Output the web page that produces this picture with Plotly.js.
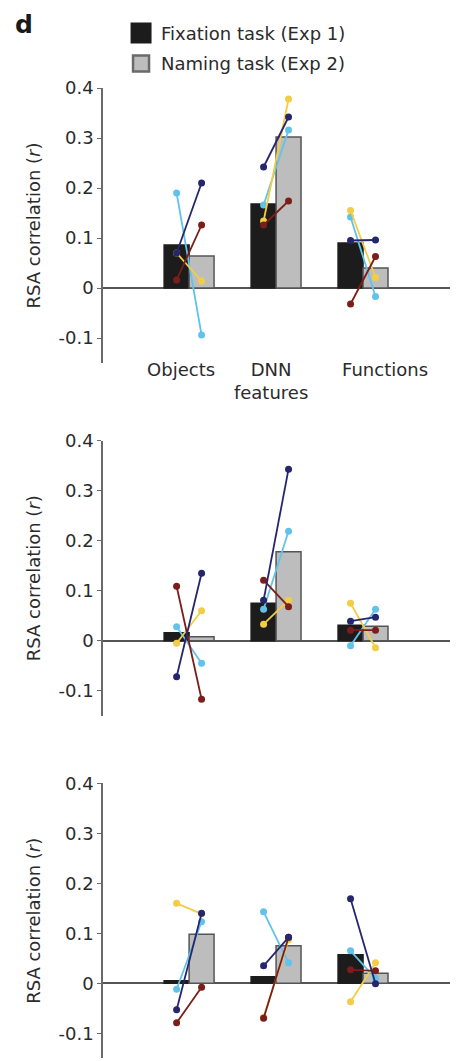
<!DOCTYPE html>
<html><head><meta charset="utf-8">
<script src="https://cdn.plot.ly/plotly-3.0.1.min.js"></script>
<style>html,body{margin:0;padding:0;background:#fff}#chart{width:461px;height:1061px}</style>
</head><body><div id="chart"></div>
<script>
// ---------- data ----------
const categories = ['Objects', 'DNN<br>features', 'Functions'];
const seriesNames = ['Fixation task (Exp 1)', 'Naming task (Exp 2)'];
const yTickVals = [-0.1, 0, 0.1, 0.2, 0.3, 0.4];
const yTickText = ['-0.1', '0', '0.1', '0.2', '0.3', '0.4'];
const axisTitle = 'RSA correlation (<i>r</i>)';
const panelLabel = 'd';

// Panel 1 (top)
const p1Exp1Mean = [0.086, 0.168, 0.090];
const p1Exp2Mean = [0.064, 0.302, 0.040];
const p1NavyExp1 = [0.070, 0.242, 0.095];
const p1NavyExp2 = [0.210, 0.342, 0.096];
const p1RedExp1 = [0.016, 0.126, -0.032];
const p1RedExp2 = [0.126, 0.174, 0.063];
const p1BlueExp1 = [0.190, 0.166, 0.142];
const p1BlueExp2 = [-0.094, 0.316, -0.017];
const p1YellowExp1 = [0.070, 0.134, 0.155];
const p1YellowExp2 = [0.014, 0.378, 0.021];

// Panel 2 (middle)
const p2Exp1Mean = [0.016, 0.075, 0.031];
const p2Exp2Mean = [0.008, 0.178, 0.029];
const p2NavyExp1 = [-0.072, 0.081, 0.039];
const p2NavyExp2 = [0.135, 0.343, 0.047];
const p2RedExp1 = [0.109, 0.121, 0.021];
const p2RedExp2 = [-0.117, 0.068, 0.021];
const p2BlueExp1 = [0.028, 0.063, -0.010];
const p2BlueExp2 = [-0.045, 0.219, 0.063];
const p2YellowExp1 = [-0.005, 0.033, 0.075];
const p2YellowExp2 = [0.060, 0.081, -0.014];

// Panel 3 (bottom)
const p3Exp1Mean = [0.005, 0.013, 0.057];
const p3Exp2Mean = [0.098, 0.075, 0.020];
const p3NavyExp1 = [-0.053, 0.035, 0.169];
const p3NavyExp2 = [0.140, 0.092, -0.001];
const p3RedExp1 = [-0.079, -0.070, 0.027];
const p3RedExp2 = [-0.008, 0.092, 0.025];
const p3BlueExp1 = [-0.012, 0.143, 0.065];
const p3BlueExp2 = [0.123, 0.041, 0.010];
const p3YellowExp1 = [0.160, -0.068, -0.037];
const p3YellowExp2 = [0.139, 0.087, 0.041];

// ---------- styles ----------
const FONT = 'DejaVu Sans, Arial, sans-serif';
const TXT = '#2b2b2b';
const AXC = '#6a6a6a';
const barColors = ['#1c1c1c', '#bdbdbd'];
const barLines = ['#1c1c1c', '#555555'];
const subjColors = {navy: '#26266e', red: '#7b1e1a', blue: '#62c3ea', yellow: '#f2cd45'};
const barWidth = 0.287;

const panels = [
  {ax: '', m1: p1Exp1Mean, m2: p1Exp2Mean, subj: [
    ['blue', p1BlueExp1, p1BlueExp2], ['yellow', p1YellowExp1, p1YellowExp2],
    ['red', p1RedExp1, p1RedExp2], ['navy', p1NavyExp1, p1NavyExp2]]},
  {ax: '2', m1: p2Exp1Mean, m2: p2Exp2Mean, subj: [
    ['blue', p2BlueExp1, p2BlueExp2], ['yellow', p2YellowExp1, p2YellowExp2],
    ['red', p2RedExp1, p2RedExp2], ['navy', p2NavyExp1, p2NavyExp2]]},
  {ax: '3', m1: p3Exp1Mean, m2: p3Exp2Mean, subj: [
    ['blue', p3BlueExp1, p3BlueExp2], ['yellow', p3YellowExp1, p3YellowExp2],
    ['red', p3RedExp1, p3RedExp2], ['navy', p3NavyExp1, p3NavyExp2]]}
];

const idx = categories.map((c, i) => i);
const traces = [];
panels.forEach(p => {
  const xa = 'x' + p.ax, ya = 'y' + p.ax;
  [p.m1, p.m2].forEach((vals, k) => {
    traces.push({type: 'bar', x: idx, y: vals, name: seriesNames[k], xaxis: xa, yaxis: ya,
      width: barWidth, offset: k === 0 ? -barWidth : 0, showlegend: false,
      marker: {color: barColors[k], line: {color: barLines[k], width: 1.5}},
      hoverinfo: 'y'});
  });
  p.subj.forEach(([col, e1, e2]) => {
    const xs = [], ys = [];
    idx.forEach(i => { xs.push(i - barWidth / 2, i + barWidth / 2, null); ys.push(e1[i], e2[i], null); });
    traces.push({type: 'scatter', mode: 'lines+markers', x: xs, y: ys, xaxis: xa, yaxis: ya,
      showlegend: false, line: {color: subjColors[col], width: 1.8},
      marker: {color: subjColors[col], size: 7}, hoverinfo: 'y'});
  });
});
// legend entries (larger square swatches)
const legendLineColors = ['#1c1c1c', '#6a6a6a'];
const legendLineWidths = [5, 2.5];
seriesNames.forEach((n, k) => {
  traces.push({type: 'scatter', mode: 'markers', x: [null], y: [null], name: n, xaxis: 'x', yaxis: 'y',
    legendgroup: 'g' + k,
    marker: {symbol: 'square', size: 16, color: barColors[k], line: {color: legendLineColors[k], width: legendLineWidths[k]}}});
});

const H = 1061;
const dom = (top, bottom) => [1 - bottom / H, 1 - top / H];
const yBase = {
  range: [-0.15, 0.4], tickvals: yTickVals, ticktext: yTickText,
  showline: true, linecolor: AXC, linewidth: 1.5, ticks: 'outside', ticklen: 4, tickcolor: AXC,
  zeroline: true, zerolinecolor: '#555555', zerolinewidth: 1.5, showgrid: false,
  tickfont: {family: FONT, size: 18, color: TXT}, automargin: false,
  title: {text: axisTitle, font: {family: FONT, size: 18, color: TXT}, standoff: 13}, fixedrange: true
};
const xBase = {range: [-0.99, 3.0], showline: false, showgrid: false, zeroline: false, ticks: '', fixedrange: true,
  automargin: false};

const layout = {
  width: 461, height: 1061, margin: {l: 103, r: 11, t: 0, b: 0},
  paper_bgcolor: '#ffffff', plot_bgcolor: 'rgba(0,0,0,0)',
  barmode: 'overlay', showlegend: true, hovermode: 'closest',
  font: {family: FONT, size: 18, color: TXT},
  legend: {x: 0.052, y: 0.986, xanchor: 'left', yanchor: 'top', font: {family: FONT, size: 18, color: TXT},
    bgcolor: 'rgba(0,0,0,0)', itemsizing: 'trace', tracegroupgap: 4},
  xaxis: Object.assign({}, xBase, {anchor: 'y', tickvals: [-0.092, 0.943, 2.253], ticktext: categories,
    ticklabelstandoff: -6, tickfont: {family: FONT, size: 18, color: TXT}}),
  xaxis2: Object.assign({}, xBase, {anchor: 'y2', showticklabels: false}),
  xaxis3: Object.assign({}, xBase, {anchor: 'y3', showticklabels: false}),
  yaxis: Object.assign({}, yBase, {domain: dom(88, 363), anchor: 'x'}),
  yaxis2: Object.assign({}, yBase, {domain: dom(440.7, 715.7), anchor: 'x2'}),
  yaxis3: Object.assign({}, yBase, {domain: dom(783.3, 1058.3), anchor: 'x3'}),
  annotations: [{text: '<b>' + panelLabel + '</b>', xref: 'paper', yref: 'paper', x: -0.26, y: 0.992,
    xanchor: 'left', yanchor: 'top', showarrow: false, font: {family: FONT, size: 25, color: '#1a1a1a'}}]
};

Plotly.newPlot('chart', traces, layout, {displayModeBar: false, staticPlot: false});
</script></body></html>
